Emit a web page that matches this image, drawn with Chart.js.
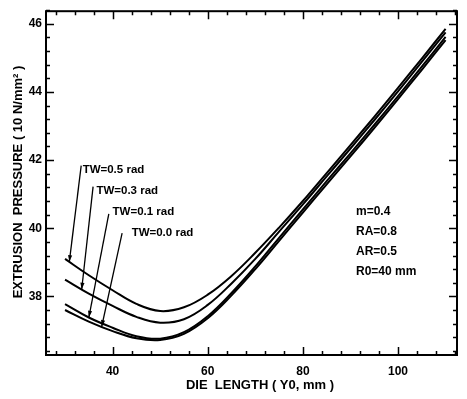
<!DOCTYPE html>
<html lang="en">
<head>
  <meta charset="UTF-8">
  <title>Extrusion pressure vs die length</title>
  <script src="https://cdn.jsdelivr.net/npm/chart.js"></script>
  <style>
    body {
      margin: 0;
      background: #fff;
      overflow: hidden;
    }
    #wrap {
      width: 467px;
      height: 399px;
    }
  </style>
</head>
<body>
  <div id="wrap"><canvas id="pressureChart"></canvas></div>

<script>
  // die length Y0 (mm)
  const dieLength = [30, 35, 40, 45, 50, 55, 60, 65, 70, 75, 80, 85, 90, 95, 100, 105, 110];

  // extrusion pressure (10 N/mm2) for each twist angle
  const tw05 = [39.10, 38.62, 38.18, 37.78, 37.57, 37.68, 38.05, 38.60, 39.28, 40.02, 40.80, 41.62, 42.44, 43.27, 44.12, 44.98, 45.85];
  const tw03 = [38.49, 38.08, 37.72, 37.40, 37.23, 37.33, 37.75, 38.38, 39.10, 39.90, 40.70, 41.52, 42.34, 43.17, 44.02, 44.88, 45.75];
  const tw01 = [37.77, 37.38, 37.08, 36.83, 36.76, 36.95, 37.42, 38.10, 38.88, 39.72, 40.55, 41.38, 42.20, 43.03, 43.88, 44.74, 45.62];
  const tw00 = [37.60, 37.26, 36.98, 36.77, 36.72, 36.90, 37.36, 38.03, 38.80, 39.63, 40.46, 41.29, 42.11, 42.94, 43.79, 44.65, 45.52];

  const xTickLabels = [40, 60, 80, 100];
  const yTickLabels = [38, 40, 42, 44, 46];

  // curve labels: text, text anchor (mm, pressure), leader start, arrow tip x (mm)
  const twNames = ['TW=0.5 rad', 'TW=0.3 rad', 'TW=0.1 rad', 'TW=0.0 rad'];
  const twText = [[33.7, 41.71], [36.6, 41.10], [40.0, 40.49], [44.0, 39.88]];
  const twLeader = [[33.4, 41.84], [35.9, 41.22], [39.2, 40.42], [42.0, 39.86]];
  const twTip = [30.9, 33.5, 35.0, 37.7];

  const params = ['m=0.4', 'RA=0.8', 'AR=0.5', 'R0=40 mm'];

  const seriesList = [tw05, tw03, tw01, tw00];

  function valueAt(series, x) {
    for (let i = 0; i < dieLength.length - 1; i++) {
      if (x >= dieLength[i] && x <= dieLength[i + 1]) {
        const t = (x - dieLength[i]) / (dieLength[i + 1] - dieLength[i]);
        return series[i] + t * (series[i + 1] - series[i]);
      }
    }
    return series[0];
  }

  const frameAndNotes = {
    id: 'frameAndNotes',
    afterDraw(chart) {
      const ctx = chart.ctx;
      const a = chart.chartArea;
      const xs = chart.scales.x;
      const ys = chart.scales.y;
      ctx.save();
      ctx.strokeStyle = '#000';
      ctx.fillStyle = '#000';

      // frame
      ctx.lineWidth = 2;
      ctx.strokeRect(a.left, a.top, a.right - a.left, a.bottom - a.top);

      // inward ticks, every 4 mm and every 0.4 units
      ctx.lineWidth = 1.5;
      for (let v = 28; v <= 112; v += 4) {
        const px = Math.round(xs.getPixelForValue(v)) + 0.5;
        const len = v % 20 === 0 ? 8 : 4;
        ctx.beginPath();
        ctx.moveTo(px, a.bottom); ctx.lineTo(px, a.bottom - len);
        ctx.moveTo(px, a.top); ctx.lineTo(px, a.top + len);
        ctx.stroke();
      }
      for (let k = 91; k <= 116; k++) {
        const v = k * 0.4;
        const py = Math.round(ys.getPixelForValue(v)) + 0.5;
        const len = k % 5 === 0 ? 8 : 4;
        ctx.beginPath();
        ctx.moveTo(a.left, py); ctx.lineTo(a.left + len, py);
        ctx.moveTo(a.right, py); ctx.lineTo(a.right - len, py);
        ctx.stroke();
      }

      // axis titles
      ctx.font = 'bold 13px "Liberation Sans", Arial, sans-serif';
      ctx.textAlign = 'center';
      ctx.textBaseline = 'middle';
      ctx.fillText('DIE  LENGTH ( Y0, mm )', 260, 385);
      ctx.save();
      ctx.translate(18, 182);
      ctx.rotate(-Math.PI / 2);
      ctx.fillText('EXTRUSION  PRESSURE ( 10 N/mm\u00B2 )', 0, 0);
      ctx.restore();

      // curve labels with arrows
      ctx.font = 'bold 11.5px "Liberation Sans", Arial, sans-serif';
      ctx.textAlign = 'left';
      ctx.lineWidth = 1.3;
      twNames.forEach((name, i) => {
        const tx = xs.getPixelForValue(twText[i][0]);
        const ty = ys.getPixelForValue(twText[i][1]);
        ctx.fillText(name, tx, ty);
        const sx = xs.getPixelForValue(twLeader[i][0]);
        const sy = ys.getPixelForValue(twLeader[i][1]);
        const ex = xs.getPixelForValue(twTip[i]);
        const ey = ys.getPixelForValue(valueAt(seriesList[i], twTip[i]));
        ctx.beginPath();
        ctx.moveTo(sx, sy); ctx.lineTo(ex, ey);
        ctx.stroke();
        const ang = Math.atan2(ey - sy, ex - sx);
        ctx.beginPath();
        ctx.moveTo(ex, ey);
        ctx.lineTo(ex - 7 * Math.cos(ang - 0.3), ey - 7 * Math.sin(ang - 0.3));
        ctx.lineTo(ex - 7 * Math.cos(ang + 0.3), ey - 7 * Math.sin(ang + 0.3));
        ctx.closePath();
        ctx.fill();
      });

      // process parameters
      ctx.font = 'bold 12px "Liberation Sans", Arial, sans-serif';
      params.forEach((p, i) => {
        ctx.fillText(p, 356, 212 + i * 20);
      });
      ctx.restore();
    }
  };

  const lineStyle = {
    borderColor: '#000',
    borderWidth: 2,
    pointRadius: 0,
    tension: 0.4,
    fill: false
  };

  new Chart(document.getElementById('pressureChart'), {
    type: 'line',
    data: {
      labels: dieLength,
      datasets: [
        { label: 'TW=0.5 rad', data: dieLength.map((x, i) => ({ x, y: tw05[i] })), ...lineStyle },
        { label: 'TW=0.3 rad', data: dieLength.map((x, i) => ({ x, y: tw03[i] })), ...lineStyle },
        { label: 'TW=0.1 rad', data: dieLength.map((x, i) => ({ x, y: tw01[i] })), ...lineStyle },
        { label: 'TW=0.0 rad', data: dieLength.map((x, i) => ({ x, y: tw00[i] })), ...lineStyle }
      ]
    },
    options: {
      responsive: true,
      maintainAspectRatio: false,
      animation: false,
      layout: { padding: { top: 7, right: 10, left: 0, bottom: 0 } },
      plugins: {
        legend: { display: false },
        tooltip: { enabled: false }
      },
      scales: {
        x: {
          type: 'linear',
          min: 26,
          max: 112.4,
          grid: { display: false, drawTicks: false },
          border: { display: false },
          afterBuildTicks: s => { s.ticks = xTickLabels.map(v => ({ value: v })); },
          afterFit: s => { s.height = 44; },
          ticks: {
            color: '#000',
            padding: 9,
            font: { family: '"Liberation Sans", Arial, sans-serif', size: 12, weight: 'bold' }
          }
        },
        y: {
          min: 36.28,
          max: 46.37,
          grid: { display: false, drawTicks: false },
          border: { display: false },
          afterBuildTicks: s => { s.ticks = yTickLabels.map(v => ({ value: v })); },
          afterFit: s => { s.width = 46; },
          ticks: {
            color: '#000',
            padding: 4,
            font: { family: '"Liberation Sans", Arial, sans-serif', size: 12, weight: 'bold' }
          }
        }
      }
    },
    plugins: [frameAndNotes]
  });
</script>
</body>
</html>
